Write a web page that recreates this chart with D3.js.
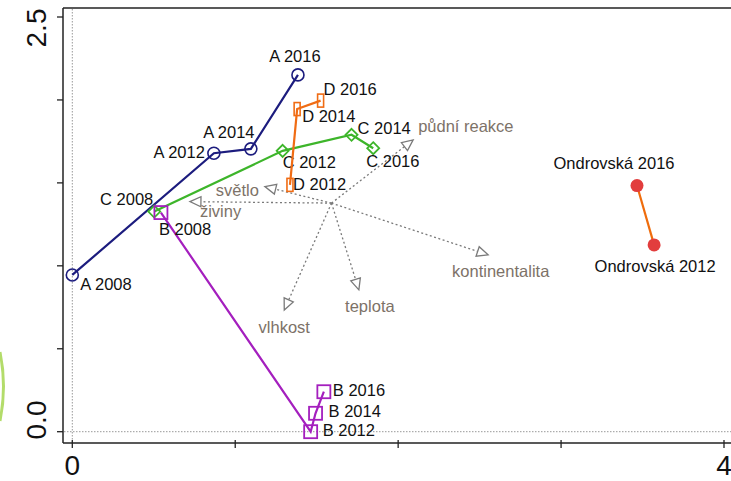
<html>
<head>
<script src="https://d3js.org/d3.v7.min.js"></script>
<style>
body { margin: 0; background: #fff; }
svg { display: block; font-family: 'Liberation Sans', Arial, sans-serif; }
.lab { font-size: 16.5px; fill: #111; }
.env { font-size: 16.5px; fill: #7d7268; }
.tick { font-size: 28px; fill: #111; }
</style>
</head>
<body>
<svg width="731" height="481"></svg>
<script>
// ordination scores, [axis1, axis2]
var years = ["2008", "2012", "2014", "2016"];
var siteA = [[0.00, 0.945], [0.869, 1.679], [1.096, 1.705], [1.385, 2.151]];
var siteB = [[0.544, 1.321], [1.463, 0.00], [1.493, 0.111], [1.544, 0.241]];
var siteC = [[0.503, 1.327], [1.291, 1.693], [1.714, 1.790], [1.847, 1.709]];
var siteD = [[1.336, 1.488], [1.380, 1.945], [1.524, 1.996]];
var yearsD = ["2012", "2014", "2016"];
var ondrovska = [[3.571, 1.126], [3.466, 1.484]];
var yearsOndr = ["2012", "2016"];

// environmental vectors (passive), origin and tips
var envOrigin = [1.591, 1.378];
var envNames = ["půdní reakce", "kontinentalita", "teplota", "vlhkost", "světlo", "živiny"];
var envTips = [[2.092, 1.759], [2.552, 1.066], [1.759, 0.855], [1.301, 0.734], [1.182, 1.478], [0.722, 1.387]];

var xTicks = [0, 1, 2, 3, 4];
var yTicks = [0, 0.5, 1, 1.5, 2, 2.5];

var svg = d3.select("svg");
var x = d3.scaleLinear().domain([0, 4]).range([72.3, 724]);
var y = d3.scaleLinear().domain([0, 2.5]).range([431.7, 17]);

// stray green arc at the left border
svg.append("path")
	.attr("d", "M0,352 Q7,386 0,421")
	.attr("fill", "none").attr("stroke", "#b3dc6a").attr("stroke-width", 3);

// frame
svg.append("line").attr("x1", 63).attr("x2", 731).attr("y1", 8).attr("y2", 8).attr("stroke", "#222").attr("stroke-width", 1.5);
svg.append("line").attr("x1", 63).attr("x2", 63).attr("y1", 8).attr("y2", 443).attr("stroke", "#222").attr("stroke-width", 1.5);
svg.append("line").attr("x1", 63).attr("x2", 731).attr("y1", 443).attr("y2", 443).attr("stroke", "#222").attr("stroke-width", 1.5);

// zero lines
svg.append("line").attr("x1", x(0)).attr("x2", x(0)).attr("y1", 9).attr("y2", 442)
	.attr("stroke", "#999").attr("stroke-dasharray", "1.5,1.5");
svg.append("line").attr("x1", 64).attr("x2", 731).attr("y1", y(0)).attr("y2", y(0))
	.attr("stroke", "#999").attr("stroke-dasharray", "1.5,1.5");

// ticks
svg.selectAll("line.yt").data(yTicks).enter().append("line").attr("class", "yt")
	.attr("x1", 57).attr("x2", 63).attr("y1", function(d){return y(d);}).attr("y2", function(d){return y(d);})
	.attr("stroke", "#222").attr("stroke-width", 1.3);
svg.selectAll("line.xt").data(xTicks).enter().append("line").attr("class", "xt")
	.attr("x1", function(d){return x(d);}).attr("x2", function(d){return x(d);}).attr("y1", 440).attr("y2", 448)
	.attr("stroke", "#222").attr("stroke-width", 1.3);

// tick labels (only the ends are labelled)
[0, 4].forEach(function(v) {
	svg.append("text").attr("class", "tick").attr("x", x(v)).attr("y", 475).attr("text-anchor", "middle").text(v);
});
[[2.5, 28], [0, 420]].forEach(function(p) {
	svg.append("text").attr("class", "tick").attr("text-anchor", "middle")
		.attr("transform", "translate(46," + p[1] + ") rotate(-90)").text(d3.format(".1f")(p[0]));
});

// environmental arrows
var envPlace = [["start", 5, -8], ["start", -36, 22], ["middle", 11, 22], ["middle", 0, 23], ["end", -6, 9], ["start", 10, 15]];
envTips.forEach(function(t, i) {
	var x0 = x(envOrigin[0]), y0 = y(envOrigin[1]), x1 = x(t[0]), y1 = y(t[1]);
	var a = Math.atan2(y1 - y0, x1 - x0), len = 11, w = 5;
	var bx = x1 - len * Math.cos(a), by = y1 - len * Math.sin(a);
	svg.append("line").attr("x1", x0).attr("y1", y0).attr("x2", bx).attr("y2", by)
		.attr("stroke", "#7a7a7a").attr("stroke-width", 1.3).attr("stroke-dasharray", "2,2.5");
	var pts = [[x1, y1], [bx - w * Math.sin(a), by + w * Math.cos(a)], [bx + w * Math.sin(a), by - w * Math.cos(a)]];
	svg.append("path").attr("d", "M" + pts.join("L") + "Z")
		.attr("fill", "#fff").attr("stroke", "#7a7a7a").attr("stroke-width", 1.3);
	var p = envPlace[i];
	svg.append("text").attr("class", "env").attr("x", x1 + p[1]).attr("y", y1 + p[2])
		.attr("text-anchor", p[0]).text(envNames[i]);
});

var line = d3.line().x(function(d){return x(d[0]);}).y(function(d){return y(d[1]);});

function drawSite(name, data, yrs, color, lineColor, marker, place) {
	svg.append("path").datum(data).attr("d", line)
		.attr("fill", "none").attr("stroke", lineColor).attr("stroke-width", 2.2);
	data.forEach(function(d, i) {
		var px = x(d[0]), py = y(d[1]);
		if (marker == "circle") {
			svg.append("circle").attr("cx", px).attr("cy", py).attr("r", 6)
				.attr("fill", "none").attr("stroke", color).attr("stroke-width", 1.6);
		} else if (marker == "square") {
			svg.append("rect").attr("x", px - 6.5).attr("y", py - 6.5).attr("width", 13).attr("height", 13)
				.attr("fill", "none").attr("stroke", color).attr("stroke-width", 1.8);
		} else if (marker == "diamond") {
			svg.append("path").attr("d", "M" + px + "," + (py - 6) + "L" + (px + 6) + "," + py + "L" + px + "," + (py + 6) + "L" + (px - 6) + "," + py + "Z")
				.attr("fill", "none").attr("stroke", color).attr("stroke-width", 1.8);
		} else if (marker == "bar") {
			svg.append("rect").attr("x", px - 3).attr("y", py - 6.5).attr("width", 6).attr("height", 13)
				.attr("fill", "none").attr("stroke", color).attr("stroke-width", 1.6);
		} else {
			svg.append("circle").attr("cx", px).attr("cy", py).attr("r", 6.5).attr("fill", color);
		}
		var p = place[i];
		svg.append("text").attr("class", "lab").attr("x", px + p[1]).attr("y", py + p[2])
			.attr("text-anchor", p[0]).text(name + " " + yrs[i]);
	});
}

drawSite("A", siteA, years, "#1c1c7e", "#1c1c7e", "circle",
	[["start", 8, 15], ["end", -9, 5], ["middle", -22, -11], ["middle", -3, -13]]);
drawSite("C", siteC, years, "#3db52a", "#3db52a", "diamond",
	[["end", -1, -7], ["start", 0, 17], ["start", 6, -1], ["start", -7, 19]]);
drawSite("D", siteD, yearsD, "#f06c14", "#f06c14", "bar",
	[["start", 3, 5], ["start", 5, 13], ["start", 3, -6]]);
drawSite("B", siteB, years, "#a41fbe", "#a41fbe", "square",
	[["start", -2, 22], ["start", 12, 4], ["start", 13, 3.5], ["start", 9, 4]]);

// reference locality: red dots joined by an orange line
drawSite("Ondrovská", ondrovska, yearsOndr, "#e23d3d", "#ef6c0c", "dot",
	[["middle", 1, 27], ["middle", -23, -17]]);
</script>
</body>
</html>
